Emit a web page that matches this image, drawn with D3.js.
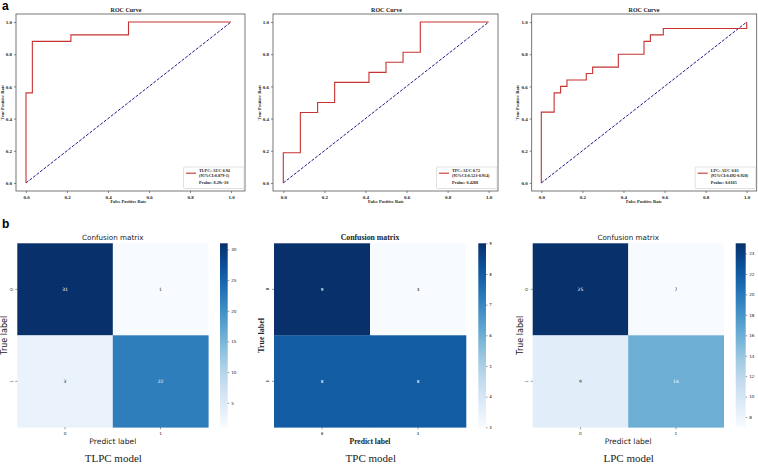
<!DOCTYPE html>
<html><head><meta charset="utf-8">
<script src="https://cdn.jsdelivr.net/npm/d3@7"></script>
<style>body{margin:0;background:#fff}svg{display:block}</style></head>
<body>
<svg id="c" width="758" height="464"></svg>
<script>
// ---------- DATA ----------
const rocTicks = [0, 0.2, 0.4, 0.6, 0.8, 1.0];
const diagonal = [0, 1];

const tlpcFPR = [0, 0, 0.031, 0.031, 0.219, 0.219, 0.5, 0.5, 1];
const tlpcTPR = [0, 0.56, 0.56, 0.88, 0.88, 0.92, 0.92, 1, 1];
const tlpcLegend = ["TLPC: AUC 0.94", "(95%CI:0.879-1)", "Pvalue: 8.29e-10"];

const tpcFPR = [0, 0, 0.083, 0.083, 0.167, 0.167, 0.25, 0.25, 0.417, 0.417, 0.5, 0.5, 0.583, 0.583, 0.667, 0.667, 1];
const tpcTPR = [0, 0.1875, 0.1875, 0.4375, 0.4375, 0.5, 0.5, 0.625, 0.625, 0.6875, 0.6875, 0.75, 0.75, 0.8125, 0.8125, 1, 1];
const tpcLegend = ["TPC: AUC 0.72", "(95%CI:0.523-0.914)", "Pvalue: 0.4288"];

const lpcFPR = [0, 0, 0.0625, 0.0625, 0.094, 0.094, 0.125, 0.125, 0.219, 0.219, 0.25, 0.25, 0.375, 0.375, 0.5, 0.5, 0.531, 0.531, 0.594, 0.594, 1, 1];
const lpcTPR = [0, 0.44, 0.44, 0.56, 0.56, 0.6, 0.6, 0.64, 0.64, 0.68, 0.68, 0.72, 0.72, 0.8, 0.8, 0.88, 0.88, 0.92, 0.92, 0.96, 0.96, 1];
const lpcLegend = ["LPC: AUC 0.81", "(95%CI:0.692-0.928)", "Pvalue: 0.0105"];

const cmLabels = ["0", "1"];
const tlpcCM = [[31, 1], [3, 22]];
const tpcCM = [[9, 3], [8, 8]];
const lpcCM = [[25, 7], [9, 16]];
const tlpcCbTicks = [5, 10, 15, 20, 25, 30];
const tpcCbTicks = [3, 4, 5, 6, 7, 8, 9];
const lpcCbTicks = [8, 10, 12, 14, 16, 18, 20, 22, 24];
const modelNames = ["TLPC model", "TPC model", "LPC model"];

// ---------- DRAW ----------
const svg = d3.select("#c");
const SERIF = "'Liberation Serif','Times New Roman',serif";
const SANS = "'DejaVu Sans',sans-serif";

svg.append("text").attr("x", 2).attr("y", 10).attr("font-family", "'Liberation Sans',Arial,sans-serif")
  .attr("font-weight", "bold").attr("font-size", 12).text("a");
svg.append("text").attr("x", 2).attr("y", 228).attr("font-family", "'Liberation Sans',Arial,sans-serif")
  .attr("font-weight", "bold").attr("font-size", 12).text("b");

function drawROC(L, fpr, tpr, legend) {
  const g = svg.append("g");
  const by = 14, bh = 177;
  const x = d3.scaleLinear().domain([0, 1]).range([L.x0, L.x1]);
  const y = d3.scaleLinear().domain([-0.05, 1.05]).range([by + bh, by]);

  const xa = g.append("g").attr("transform", `translate(0,${by + bh})`)
    .call(d3.axisBottom(x).tickValues(rocTicks).tickFormat(d3.format(".1f")).tickSize(2).tickPadding(2));
  const ya = g.append("g").attr("transform", `translate(${L.bx},0)`)
    .call(d3.axisLeft(y).tickValues(rocTicks).tickFormat(d3.format(".1f")).tickSize(2).tickPadding(2));
  [xa, ya].forEach(a => {
    a.select(".domain").remove();
    a.selectAll("line").attr("stroke", "#333").attr("stroke-width", 0.6);
    a.selectAll("text").attr("font-family", SERIF).attr("font-weight", "bold").attr("font-size", 5).attr("fill", "#222");
  });

  g.append("rect").attr("x", L.bx).attr("y", by).attr("width", L.bw).attr("height", bh)
    .attr("fill", "none").attr("stroke", "#555").attr("stroke-width", 0.8);

  g.append("path").attr("d", d3.line()([[x(diagonal[0]), y(diagonal[0])], [x(diagonal[1]), y(diagonal[1])]]))
    .attr("stroke", "navy").attr("stroke-width", 0.9).attr("stroke-dasharray", "3,1.5").attr("fill", "none");

  const pts = fpr.map((f, i) => [f, tpr[i]]);
  g.append("path").datum(pts)
    .attr("d", d3.line().x(d => x(d[0])).y(d => y(d[1])))
    .attr("stroke", "#c83232").attr("stroke-width", 1.1).attr("fill", "none");

  g.append("text").attr("x", L.tx).attr("y", 12).attr("text-anchor", "middle")
    .attr("font-family", SERIF).attr("font-weight", "bold").attr("font-size", 6).attr("fill", "#222").text("ROC Curve");
  g.append("text").attr("x", (L.x0 + L.x1) / 2).attr("y", 203).attr("text-anchor", "middle")
    .attr("font-family", SERIF).attr("font-weight", "bold").attr("font-size", 4.5).attr("fill", "#222").text("False Positive Rate");
  g.append("text").attr("transform", `translate(${L.ylab},${y(0.5)}) rotate(-90)`).attr("text-anchor", "middle")
    .attr("font-family", SERIF).attr("font-weight", "bold").attr("font-size", 4.5).attr("fill", "#222").text("True Positive Rate");

  const lw = 60.5, lx = L.bx + L.bw - lw - 1, ly = 167;
  g.append("rect").attr("x", lx).attr("y", ly).attr("width", lw).attr("height", 21.5)
    .attr("fill", "#fff").attr("stroke", "#ccc").attr("stroke-width", 0.6).attr("rx", 1);
  g.append("line").attr("x1", lx + 2.5).attr("x2", lx + 12.5).attr("y1", 173.2).attr("y2", 173.2)
    .attr("stroke", "#c83232").attr("stroke-width", 1.1);
  const lt = g.append("g").attr("font-family", SERIF).attr("font-weight", "bold").attr("font-size", 4.2).attr("fill", "#222");
  lt.append("text").attr("x", lx + 15.5).attr("y", 172.2).text(legend[0]);
  lt.append("text").attr("x", lx + 15.5).attr("y", 176.8).text(legend[1]);
  lt.append("text").attr("x", lx + 15.5).attr("y", 184.3).text(legend[2]);
}

drawROC({bx: 16, bw: 229, x0: 26, x1: 231, ylab: 4, tx: 126}, tlpcFPR, tlpcTPR, tlpcLegend);
drawROC({bx: 273, bw: 225, x0: 283.3, x1: 488.7, ylab: 261, tx: 386.5}, tpcFPR, tpcTPR, tpcLegend);
drawROC({bx: 531.7, bw: 225, x0: 541.3, x1: 746.7, ylab: 518.5, tx: 644}, lpcFPR, lpcTPR, lpcLegend);

function lum(c) {
  const r = d3.rgb(c);
  const f = v => { v /= 255; return v <= 0.03928 ? v / 12.92 : Math.pow((v + 0.055) / 1.055, 2.4); };
  return 0.2126 * f(r.r) + 0.7152 * f(r.g) + 0.0722 * f(r.b);
}

let gradId = 0;
function drawCM(L, cm, cbTicks, caption) {
  const g = svg.append("g");
  const hy0 = 243.3, hy1 = 427.3;
  const vals = cm.flat();
  const vmin = d3.min(vals), vmax = d3.max(vals);
  const color = d3.scaleSequential(d3.interpolateBlues).domain([vmin, vmax]);
  const xb = d3.scaleBand().domain(cmLabels).range([L.hx0, L.hx1]);
  const yb = d3.scaleBand().domain(cmLabels).range([hy0, hy1]);
  const font = L.serif ? SERIF : SANS;
  const fw = L.serif ? "bold" : "normal";

  cm.forEach((row, i) => row.forEach((v, j) => {
    const c = color(v);
    g.append("rect").attr("x", xb(cmLabels[j])).attr("y", yb(cmLabels[i]))
      .attr("width", xb.bandwidth() + 0.3).attr("height", yb.bandwidth() + 0.3)
      .attr("fill", c);
    g.append("text").attr("x", xb(cmLabels[j]) + xb.bandwidth() / 2).attr("y", yb(cmLabels[i]) + yb.bandwidth() / 2)
      .attr("dy", "0.35em").attr("text-anchor", "middle").attr("font-family", font).attr("font-weight", fw)
      .attr("font-size", 4.5).attr("fill", lum(c) < 0.408 ? "#fff" : "#262626").text(v);
  }));

  const xa = g.append("g").attr("transform", `translate(0,${hy1})`)
    .call(d3.axisBottom(xb).tickSize(2).tickPadding(3));
  const ya = g.append("g").attr("transform", `translate(${L.hx0},0)`)
    .call(d3.axisLeft(yb).tickSize(2).tickPadding(3));
  [xa, ya].forEach(a => {
    a.select(".domain").remove();
    a.selectAll("line").attr("stroke", "#333").attr("stroke-width", 0.5);
    a.selectAll("text").attr("font-family", font).attr("font-weight", fw).attr("font-size", 4.2).attr("fill", "#262626");
  });
  ya.selectAll(".tick text").attr("text-anchor", "middle")
    .attr("x", 0).attr("y", 0).attr("dy", "0.35em").attr("transform", "translate(-6,0) rotate(-90)");

  const id = "grad" + (gradId++);
  const grad = svg.append("defs").append("linearGradient").attr("id", id)
    .attr("x1", 0).attr("x2", 0).attr("y1", 1).attr("y2", 0);
  d3.range(0, 1.0001, 0.05).forEach(t => grad.append("stop").attr("offset", t).attr("stop-color", d3.interpolateBlues(t)));
  g.append("rect").attr("x", L.cb0).attr("y", hy0).attr("width", L.cb1 - L.cb0).attr("height", hy1 - hy0)
    .attr("fill", `url(#${id})`);
  const cy = d3.scaleLinear().domain([vmin, vmax]).range([hy1, hy0]);
  const ca = g.append("g").attr("transform", `translate(${L.cb1},0)`)
    .call(d3.axisRight(cy).tickValues(cbTicks).tickFormat(d3.format("d")).tickSize(1.5).tickPadding(2));
  ca.select(".domain").remove();
  ca.selectAll("line").attr("stroke", "#333").attr("stroke-width", 0.5);
  ca.selectAll("text").attr("font-family", font).attr("font-weight", fw).attr("font-size", 4.2).attr("fill", "#262626");

  const mid = (L.hx0 + L.hx1) / 2;
  g.append("text").attr("x", mid).attr("y", 240).attr("text-anchor", "middle")
    .attr("font-family", font).attr("font-weight", fw).attr("font-size", L.serif ? 7.8 : 7.2).attr("fill", "#222").text("Confusion matrix");
  g.append("text").attr("x", mid).attr("y", 443.5).attr("text-anchor", "middle")
    .attr("font-family", font).attr("font-weight", fw).attr("font-size", 7.6).attr("fill", "#222").text("Predict label");
  g.append("text").attr("transform", `translate(${L.ylab},${(hy0 + hy1) / 2}) rotate(-90)`).attr("text-anchor", "middle")
    .attr("font-family", font).attr("font-weight", fw).attr("font-size", 8).attr("fill", "#222").text("True label");
  g.append("text").attr("x", L.cap).attr("y", 462).attr("text-anchor", "middle")
    .attr("font-family", SERIF).attr("font-size", 11).attr("fill", "#222").text(caption);
}

drawCM({hx0: 17.3, hx1: 208.3, cb0: 220, cb1: 227.7, ylab: 7, cap: 113.3, serif: false}, tlpcCM, tlpcCbTicks, modelNames[0]);
drawCM({hx0: 274, hx1: 466, cb0: 478.3, cb1: 486, ylab: 264, cap: 370.8, serif: true}, tpcCM, tpcCbTicks, modelNames[1]);
drawCM({hx0: 532.7, hx1: 723.7, cb0: 735.7, cb1: 745.7, ylab: 522.5, cap: 628.7, serif: false}, lpcCM, lpcCbTicks, modelNames[2]);
</script>
</body></html>
